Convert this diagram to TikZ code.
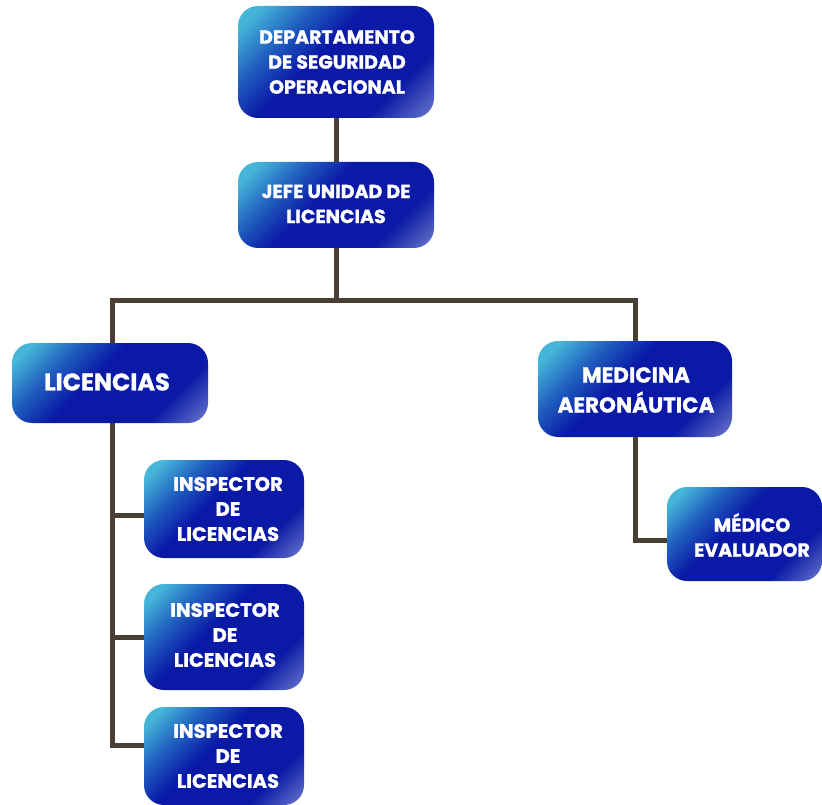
\documentclass[tikz,border=0pt]{standalone}
\usepackage{fontspec}
\setmainfont{Poppins}[BoldFeatures={FakeBold=1.2}]
\definecolor{gcyan}{HTML}{45B6D8}
\definecolor{gmid}{HTML}{2060C0}
\definecolor{gblue}{HTML}{0A1AA6}
\definecolor{glav}{HTML}{6A78CC}
\definecolor{linec}{HTML}{4A3F35}
\pgfdeclarehorizontalshading{boxshade}{100bp}{color(0bp)=(gcyan); color(20bp)=(gcyan); color(32bp)=(gmid); color(44bp)=(gblue); color(70bp)=(gblue); color(85bp)=(glav); color(100bp)=(glav)}
\tikzset{
  orgbox/.style={rounded corners=20pt, shading=boxshade, shading angle=-45},
  lbl/.style={text=white, font=\bfseries\fontsize{#1}{25}\selectfont, align=center, inner sep=0pt},
  lbl/.default=19,
  conn/.style={draw=linec, line width=5pt}
}
\begin{document}
\begin{tikzpicture}[x=1pt,y=-1pt]
\useasboundingbox (0,0) rectangle (822,805);
\path[orgbox] (238,6) rectangle (434,118);
\node[lbl] (dep) at (337,62) {DEPARTAMENTO\\DE SEGURIDAD\\OPERACIONAL};
\coordinate (depb) at (336,118);
\path[orgbox] (238,162) rectangle (434,248);
\node[lbl] (jefe) at (336,204) {JEFE UNIDAD DE\\LICENCIAS};
\coordinate (jefet) at (336,162);
\coordinate (jefeb) at (336,248);
\path[orgbox] (12,343) rectangle (208,423);
\node[lbl=24] (lic) at (107,382) {LICENCIAS};
\coordinate (lict) at (112,343);
\coordinate (licb) at (112,423);
\path[orgbox] (538,341) rectangle (732,437);
\node[lbl,font=\bfseries\fontsize{21.5}{30}\selectfont] (med) at (636,390) {MEDICINA\\AERONÁUTICA};
\coordinate (medt) at (635,341);
\coordinate (medb) at (635,437);
\path[orgbox] (144,460) rectangle (304,558);
\node[lbl=19.5] (ins1) at (228,509) {INSPECTOR\\DE\\LICENCIAS};
\coordinate (ins1l) at (144,515);
\path[orgbox] (144,584) rectangle (304,690);
\node[lbl=19.5] (ins2) at (225,635) {INSPECTOR\\DE\\LICENCIAS};
\coordinate (ins2l) at (144,637);
\path[orgbox] (144,707) rectangle (304,805);
\node[lbl=19.5] (ins3) at (228,756) {INSPECTOR\\DE\\LICENCIAS};
\coordinate (ins3l) at (144,745);
\path[orgbox] (667,487) rectangle (822,581);
\node[lbl] (mev) at (752,535) {MÉDICO\\EVALUADOR};
\coordinate (mevl) at (667,540);
% connectors
\draw[conn] (depb) -- (jefet);
\draw[conn] (jefeb) -- (336,300);
\draw[conn] (lict) -- (112,300) -- (635,300) -- (medt);
\draw[conn] (licb) -- (112,745) -- (ins3l);
\draw[conn] (112,515) -- (ins1l);
\draw[conn] (112,637) -- (ins2l);
\draw[conn] (medb) -- (635,540) -- (mevl);
\end{tikzpicture}
\end{document}
